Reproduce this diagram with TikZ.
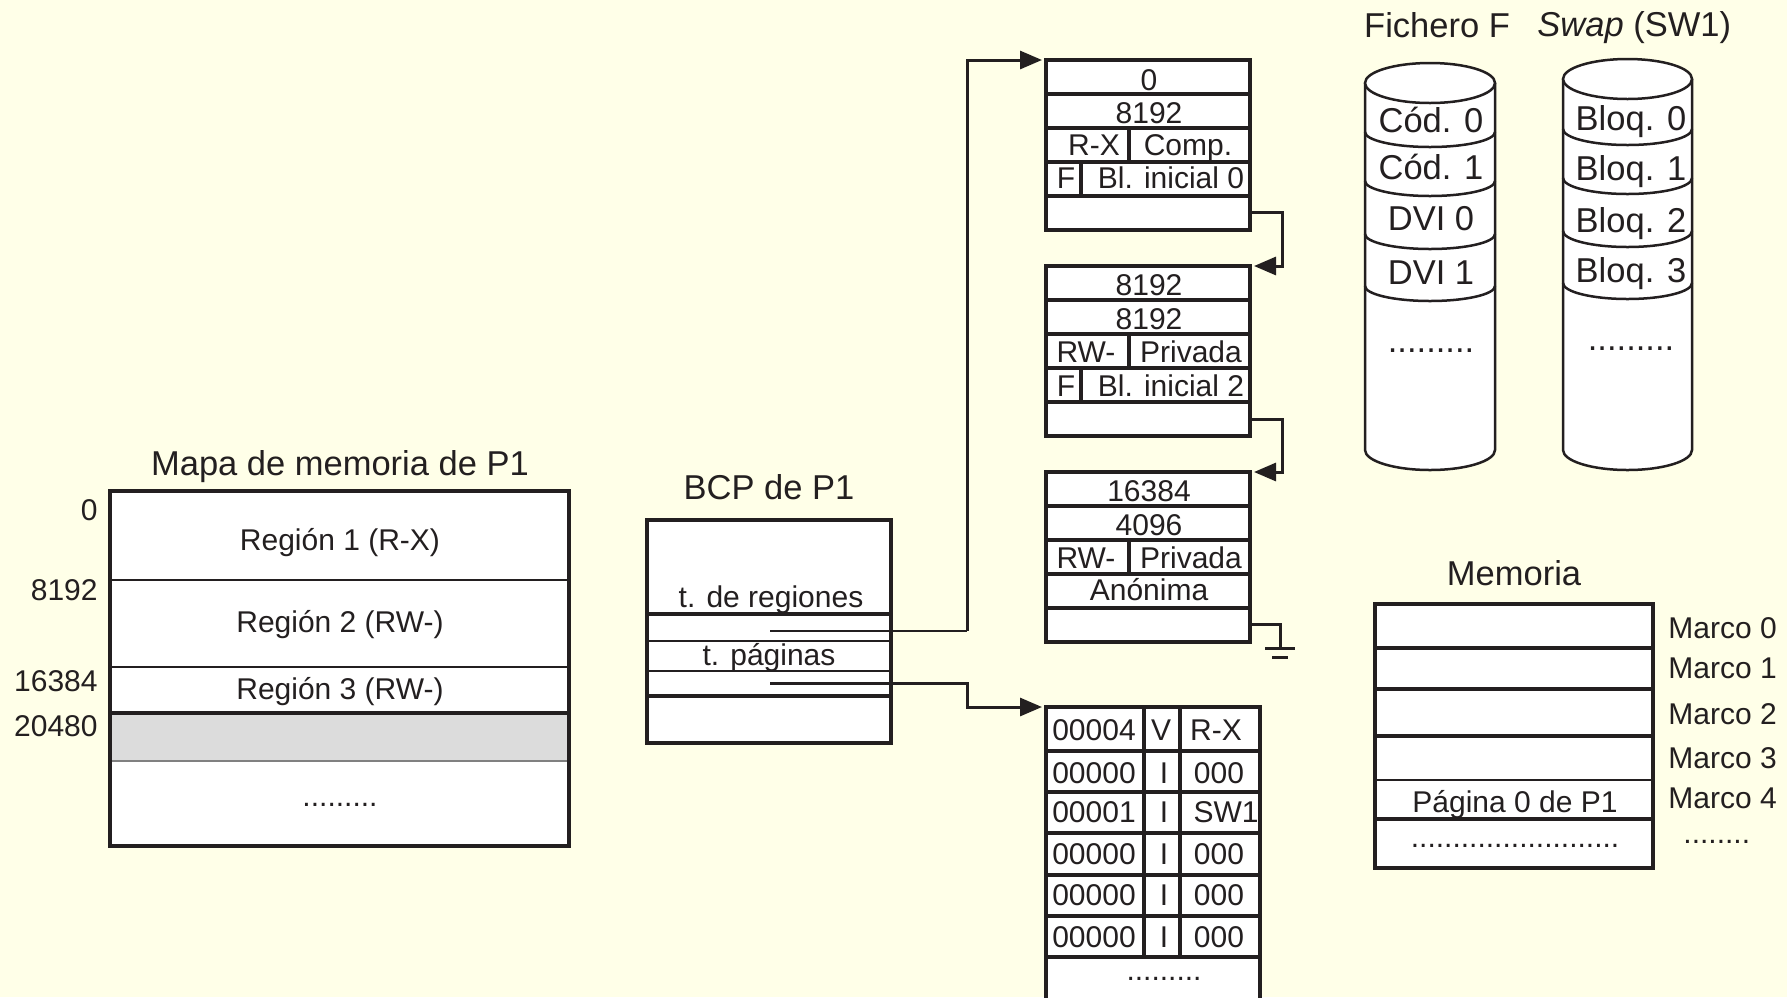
\documentclass[tikz,border=0pt]{standalone}
\usepackage{fontspec}
\setmainfont{Liberation Sans}
\usetikzlibrary{arrows.meta}
\definecolor{ink}{RGB}{35,31,32}
\definecolor{bgc}{RGB}{255,255,232}
\definecolor{shadec}{RGB}{220,220,220}
\newcommand\lowarc[4]{.. controls (#1-#2,#3+0.5523*#4) and (#1-0.5523*#2,#3+#4) .. (#1,#3+#4) .. controls (#1+0.5523*#2,#3+#4) and (#1+#2,#3+0.5523*#4) .. (#1+#2,#3)}
\tikzset{
  outer/.style={draw=ink, line width=1.75pt},
  rowl/.style={draw=ink, line width=1.6pt},
  thinl/.style={draw=ink, line width=1pt},
  lab/.style={text=ink, inner sep=0pt, anchor=base, font=\fontsize{15}{18}\selectfont},
  labbig/.style={text=ink, inner sep=0pt, anchor=base, font=\fontsize{17.25}{20}\selectfont},
  wire/.style={draw=ink, line width=1.5pt},
  arr/.style={wire, -{Triangle[length=11pt,width=9pt]}},
  cyl/.style={draw=ink, line width=1.25pt},
}
\begin{document}
\begin{tikzpicture}[x=0.5pt,y=-0.5pt]
\clip (0,0) rectangle (1787,997);
\fill[bgc] (0,0) rectangle (1787,997);

% ---------------- Mapa de memoria ----------------
\node[labbig] (mapt) at (340,475) {Mapa de memoria de P1};
\fill[white] (110,491) rectangle (569,846);
\fill[shadec] (110,713) rectangle (569,761);
\draw[thinl] (110,580) -- (569,580);
\draw[thinl] (110,667) -- (569,667);
\draw[rowl] (110,713) -- (569,713);
\draw[gray, line width=0.6pt] (110,761) -- (569,761);
\draw[outer] (110,491) rectangle (569,846);
\node[lab] (reg1) at (340,550) {Región 1 (R-X)};
\node[lab] (reg2) at (340,632) {Región 2 (RW-)};
\node[lab] (reg3) at (340,699) {Región 3 (RW-)};
\node[lab] (mapdots) at (340,806) {.........};
\node[lab, anchor=base east] (a0) at (98,520) {0};
\node[lab, anchor=base east] (a8192) at (98,600) {8192};
\node[lab, anchor=base east] (a16384) at (98,691) {16384};
\node[lab, anchor=base east] (a20480) at (98,736) {20480};

% ---------------- BCP ----------------
\node[labbig] (bcpt) at (769,499) {BCP de P1};
\fill[white] (647,520) rectangle (891,743);
\draw[rowl] (647,614) -- (893,614);
\draw[thinl] (647,641) -- (891,641);
\draw[thinl] (647,671) -- (891,671);
\draw[rowl] (647,696) -- (891,696);
\draw[outer] (647,520) rectangle (891,743);
\node[lab] (treg) at (771,607) {t. de regiones};
\node[lab] (tpag) at (769,665) {t. páginas};

% ---------------- Region tables ----------------
% table 1
\fill[white] (1046,60) rectangle (1250,230);
\foreach \y in {94,128,162,196} \draw[rowl] (1046,\y) -- (1250,\y);
\draw[rowl] (1129,128) -- (1129,162);
\draw[rowl] (1081,162) -- (1081,196);
\draw[outer] (1046,60) rectangle (1250,230);
\node[lab] (t1a) at (1149,90) {0};
\node[lab] (t1b) at (1149,123) {8192};
\node[lab] (t1c) at (1094,155) {R-X};
\node[lab] (t1d) at (1188,155) {Comp.};
\node[lab] (t1e) at (1066,188) {F};
\node[lab] (t1f) at (1171,188) {Bl. inicial 0};
% table 2
\fill[white] (1046,266) rectangle (1250,436);
\foreach \y in {300,334,368,402} \draw[rowl] (1046,\y) -- (1250,\y);
\draw[rowl] (1129,334) -- (1129,368);
\draw[rowl] (1081,368) -- (1081,402);
\draw[outer] (1046,266) rectangle (1250,436);
\node[lab] (t2a) at (1149,295) {8192};
\node[lab] (t2b) at (1149,329) {8192};
\node[lab] (t2c) at (1086,362) {RW-};
\node[lab] (t2d) at (1191,362) {Privada};
\node[lab] (t2e) at (1066,396) {F};
\node[lab] (t2f) at (1171,396) {Bl. inicial 2};
% table 3
\fill[white] (1046,472) rectangle (1250,642);
\foreach \y in {506,540,574,608} \draw[rowl] (1046,\y) -- (1250,\y);
\draw[rowl] (1129,540) -- (1129,574);
\draw[outer] (1046,472) rectangle (1250,642);
\node[lab] (t3a) at (1149,501) {16384};
\node[lab] (t3b) at (1149,535) {4096};
\node[lab] (t3c) at (1086,568) {RW-};
\node[lab] (t3d) at (1191,568) {Privada};
\node[lab] (t3e) at (1149,600) {Anónima};

% ---------------- Page table ----------------
\fill[white] (1046,707) rectangle (1260,1010);
\foreach \y in {751,792,833,875,916,957} \draw[rowl] (1046,\y) -- (1260,\y);
\draw[rowl] (1144,707) -- (1144,957);
\draw[rowl] (1180,707) -- (1180,957);
\draw[outer] (1046,707) rectangle (1260,1010);
\node[lab] (p1a) at (1094,740) {00004};
\node[lab] (p1b) at (1161,740) {V};
\node[lab] (p1c) at (1216,740) {R-X};
\node[lab] (p2a) at (1094,783) {00000};
\node[lab] (p2b) at (1164,783) {I};
\node[lab] (p2c) at (1219,783) {000};
\node[lab] (p3a) at (1094,822) {00001};
\node[lab] (p3b) at (1164,822) {I};
\node[lab] (p3c) at (1226,822) {SW1};
\node[lab] (p4a) at (1094,864) {00000};
\node[lab] (p4b) at (1164,864) {I};
\node[lab] (p4c) at (1219,864) {000};
\node[lab] (p5a) at (1094,905) {00000};
\node[lab] (p5b) at (1164,905) {I};
\node[lab] (p5c) at (1219,905) {000};
\node[lab] (p6a) at (1094,947) {00000};
\node[lab] (p6b) at (1164,947) {I};
\node[lab] (p6c) at (1219,947) {000};
\node[lab] (pdots) at (1164,980) {.........};

% ---------------- Connectors ----------------
\coordinate (c1s) at (770,631);
\coordinate (c1a) at (967,631);
\coordinate (c1b) at (967,60);
\coordinate (c1e) at (1042,60);
\draw[thinl] (c1s) -- (c1a);
\draw[arr] (c1a) -- (c1b) -- (c1e);

\coordinate (c5s) at (770,683);
\coordinate (c5a) at (967,683);
\coordinate (c5b) at (967,707);
\coordinate (c5e) at (1042,707);
\draw[arr] (c5s) -- (c5a) -- (c5b) -- (c5e);

\coordinate (c2s) at (1251,212);
\coordinate (c2a) at (1282,212);
\coordinate (c2b) at (1282,266);
\coordinate (c2e) at (1254,266);
\draw[arr] (c2s) -- (c2a) -- (c2b) -- (c2e);

\coordinate (c3s) at (1251,419);
\coordinate (c3a) at (1282,419);
\coordinate (c3b) at (1282,472);
\coordinate (c3e) at (1254,472);
\draw[arr] (c3s) -- (c3a) -- (c3b) -- (c3e);

\coordinate (c4s) at (1251,624);
\coordinate (c4a) at (1280,624);
\coordinate (c4g) at (1280,648);
\draw[wire] (c4s) -- (c4a) -- (c4g);
\draw[wire] (1265,648) -- (1295,648);
\draw[wire] (1272,657) -- (1288,657);

% ---------------- Memoria ----------------
\node[labbig] (memt) at (1514,585) {Memoria};
\fill[white] (1375,604) rectangle (1653,868);
\foreach \y in {648,689,736} \draw[rowl] (1375,\y) -- (1653,\y);
\draw[thinl] (1375,780) -- (1653,780);
\draw[rowl] (1375,819) -- (1653,819);
\draw[outer] (1375,604) rectangle (1653,868);
\node[lab] (pag0) at (1515,812) {Página 0 de P1};
\node[lab] (memdots) at (1515,847) {.........................};
\node[lab, anchor=base west] (m0) at (1668,638) {Marco 0};
\node[lab, anchor=base west] (m1) at (1668,678) {Marco 1};
\node[lab, anchor=base west] (m2) at (1668,724) {Marco 2};
\node[lab, anchor=base west] (m3) at (1668,768) {Marco 3};
\node[lab, anchor=base west] (m4) at (1668,808) {Marco 4};
\node[lab, anchor=base west] (m5) at (1683,843) {........};

% ---------------- Cylinders ----------------
\node[labbig] (fich) at (1437,37) {Fichero F};
\node[labbig, anchor=base west] (swap) at (1537,36) {\textit{Swap} (SW1)};

% cylinder 1
\fill[white] (1365,83) -- (1365,450) \lowarc{1430}{65}{450}{20} -- (1495,83) -- cycle;
\draw[cyl] (1365,83) -- (1365,450) \lowarc{1430}{65}{450}{20} -- (1495,83);
\draw[cyl, fill=white] (1430,83) ellipse [x radius=65, y radius=20];
\foreach \y in {132,181,234,286} \draw[cyl] (1365,\y) \lowarc{1430}{65}{\y}{15};
\node[labbig] (cf0) at (1431,132) {Cód. 0};
\node[labbig] (cf1) at (1431,179) {Cód. 1};
\node[labbig] (cf2) at (1431,230) {DVI 0};
\node[labbig] (cf3) at (1431,284) {DVI 1};
\node[labbig] (cfd) at (1431,352) {.........};

% cylinder 2
\fill[white] (1563,79) -- (1563,450) \lowarc{1627.5}{64.5}{450}{20} -- (1692,79) -- cycle;
\draw[cyl] (1563,79) -- (1563,450) \lowarc{1627.5}{64.5}{450}{20} -- (1692,79);
\draw[cyl, fill=white] (1627.5,79) ellipse [x radius=64.5, y radius=20];
\foreach \y in {129,178,231,283} \draw[cyl] (1563,\y) \lowarc{1627.5}{64.5}{\y}{16};
\node[labbig] (cs0) at (1631,130) {Bloq. 0};
\node[labbig] (cs1) at (1631,180) {Bloq. 1};
\node[labbig] (cs2) at (1631,232) {Bloq. 2};
\node[labbig] (cs3) at (1631,282) {Bloq. 3};
\node[labbig] (csd) at (1631,350) {.........};
\end{tikzpicture}
\end{document}
